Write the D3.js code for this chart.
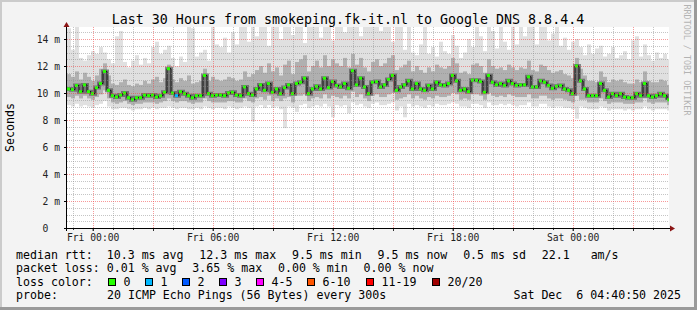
<!DOCTYPE html>
<html>
  <head>
    <title>smokeping - Google DNS 8.8.4.4</title>
    <script src="https://cdnjs.cloudflare.com/ajax/libs/d3/7.8.5/d3.min.js"></script>
    <style>
      body { margin: 0; background: #f3f3f3; }
      svg text { font-family: "DejaVu Sans Mono", monospace; white-space: pre; }
    </style>
  </head>
  <body>
    <svg width="697" height="310"></svg>
    <script>
      // one value every 12 minutes, starting Thu 22:43 UTC (ms)
      const median = [
        10.3, 10.25, 10.55, 10.1, 10.6, 10.1, 9.95, 10.4, 10.7, 11.6, 10.2, 9.8, 9.7, 9.85, 10.0, 9.65, 9.5, 9.65, 9.65,
        9.85, 9.8, 9.85, 9.7, 9.8, 10.05, 11.8, 10.0, 9.8, 10.1, 9.95, 9.8, 9.65, 9.8, 9.8, 11.3, 9.95, 9.8, 9.85,
        9.85, 9.8, 10.0, 10.05, 9.85, 9.8, 10.45, 9.95, 9.85, 10.3, 10.6, 10.2, 10.7, 10.05, 10.3, 9.95, 10.4, 10.6, 9.95,
        10.7, 10.8, 11.1, 9.95, 10.3, 10.5, 10.3, 11.1, 10.4, 10.85, 10.55, 10.45, 10.7, 10.35, 11.65, 10.6, 11.1, 10.45,
        9.95, 10.8, 10.85, 10.45, 10.6, 11.0, 11.3, 10.2, 10.45, 10.6, 10.9, 10.3, 10.7, 10.3, 10.2, 10.55, 10.3, 10.8, 10.6,
        10.55, 10.7, 11.3, 10.9, 10.2, 10.3, 10.1, 10.95, 10.95, 10.85, 10.05, 11.3, 10.8, 10.6, 10.7, 10.55, 10.9, 10.7, 10.55,
        10.6, 10.6, 11.2, 10.45, 10.45, 10.9, 10.8, 10.55, 10.35, 10.5, 10.55, 10.3, 10.2, 9.95, 12.0, 10.9, 10.3, 9.8, 9.8,
        9.8, 10.7, 10.2, 9.7, 9.95, 9.8, 9.95, 9.7, 9.65, 9.65, 9.95, 9.8, 10.7, 9.8, 9.7, 9.8, 9.95, 9.8, 9.5
      ];
      const smokeTop = [
        14.8, 13.2, 14.9, 12.6, 12.4, 12.8, 13.1, 12.9, 13.4, 13.0, 12.5, 12.2, 14.2, 14.6, 12.3, 11.9, 12.4, 12.8, 12.1,
        12.6, 12.2, 13.4, 13.8, 12.9, 13.2, 13.5, 12.6, 12.0, 12.7, 12.3, 14.9, 14.8, 12.7, 13.0, 13.2, 12.4, 14.9, 13.6,
        13.4, 14.1, 13.0, 14.5, 13.6, 14.9, 14.9, 13.8, 14.9, 14.2, 14.9, 14.9, 13.5, 14.9, 14.9, 14.0, 14.9, 14.9, 14.3,
        14.9, 14.9, 13.7, 14.9, 14.9, 14.9, 14.1, 14.9, 14.9, 13.9, 14.9, 14.9, 14.5, 14.9, 14.9, 14.9, 14.2, 14.9,
        14.9, 14.9, 14.9, 14.6, 14.9, 14.9, 13.8, 14.9, 14.9, 13.2, 14.9, 13.0, 12.8, 13.6, 14.9, 12.9, 13.4, 12.7, 13.8,
        13.1, 12.9, 14.3, 13.5, 12.6, 13.0, 14.0, 13.4, 14.9, 14.2, 13.1, 14.9, 14.6, 13.3, 14.9, 13.8, 13.2, 14.9, 13.6,
        14.9, 14.2, 14.9, 14.9, 13.6, 14.9, 14.9, 13.9, 14.4, 14.9, 13.5, 14.1, 13.2, 13.8, 14.0, 13.4, 12.8, 13.6, 12.9,
        13.3, 13.5, 12.7, 12.9, 13.4, 12.6, 12.8, 13.1, 12.5, 13.9, 14.2, 12.7, 13.6, 12.8, 12.4, 13.0, 12.6, 12.9, 12.5
      ];
      const smokeHi = [
        11.4, 11.2, 11.6, 11.0, 11.5, 11.2, 10.9, 11.3, 11.8, 12.2, 11.3, 10.7, 10.6, 10.8, 11.0, 10.6, 10.5, 10.7, 10.6,
        10.9, 10.7, 11.0, 11.2, 10.8, 11.1, 12.1, 11.0, 10.8, 11.1, 10.9, 11.3, 10.7, 10.8, 10.9, 11.8, 10.9, 11.2, 11.0,
        10.9, 11.0, 11.2, 11.1, 10.9, 11.0, 11.6, 11.2, 11.4, 11.7, 12.0, 11.5, 12.2, 11.6, 11.9, 11.3, 12.1, 12.4, 11.4,
        12.3, 12.5, 12.8, 11.6, 12.0, 12.4, 11.9, 12.8, 12.0, 12.5, 12.2, 12.0, 12.6, 11.9, 12.9, 12.1, 12.6, 11.9,
        11.6, 12.3, 12.5, 12.0, 12.2, 12.6, 12.8, 11.7, 11.9, 12.1, 12.4, 11.6, 12.0, 11.7, 11.5, 11.9, 11.6, 12.1, 11.9,
        11.8, 12.0, 12.6, 12.2, 11.5, 11.6, 11.4, 12.1, 12.2, 12.0, 11.5, 12.5, 12.0, 11.8, 11.9, 11.7, 12.1, 11.9, 11.7,
        11.9, 11.8, 12.4, 11.7, 11.6, 12.1, 12.0, 11.7, 11.5, 11.6, 11.7, 11.4, 11.3, 11.1, 12.6, 11.8, 11.3, 10.9, 10.9,
        10.8, 11.6, 11.2, 10.8, 11.0, 10.9, 11.0, 10.8, 10.7, 10.7, 11.0, 10.8, 11.6, 10.9, 10.8, 10.8, 11.0, 10.9, 10.6
      ];
      const smokeLo = [
        9.7, 9.6, 9.8, 9.6, 9.8, 9.6, 9.5, 9.7, 9.9, 10.2, 9.6, 9.3, 9.2, 9.3, 9.4, 9.2, 9.1, 9.2, 9.2,
        9.3, 9.3, 9.3, 9.2, 9.3, 9.4, 9.6, 9.4, 9.3, 9.4, 9.4, 9.3, 9.2, 9.3, 9.3, 9.6, 9.4, 9.3, 9.3,
        9.3, 9.3, 9.4, 9.4, 9.3, 9.3, 9.6, 9.4, 9.3, 9.6, 9.7, 9.5, 9.8, 9.4, 9.6, 9.4, 9.6, 9.7, 9.3,
        9.8, 9.8, 9.9, 9.4, 9.6, 9.7, 9.6, 9.9, 9.6, 9.8, 9.7, 9.6, 9.8, 9.6, 10.1, 9.7, 9.9, 9.6,
        9.4, 9.8, 9.9, 9.7, 9.7, 9.9, 10.0, 9.5, 9.6, 9.7, 9.9, 9.6, 9.8, 9.6, 9.5, 9.7, 9.6, 9.8, 9.7,
        9.7, 9.8, 10.0, 9.9, 9.5, 9.6, 9.5, 9.9, 9.9, 9.8, 9.5, 10.0, 9.8, 9.7, 9.8, 9.7, 9.9, 9.8, 9.7,
        9.7, 9.7, 9.9, 9.6, 9.6, 9.8, 9.8, 9.6, 9.5, 9.6, 9.6, 9.5, 9.4, 9.3, 9.8, 9.5, 9.5, 9.3, 9.3,
        9.3, 9.6, 9.4, 9.2, 9.3, 9.3, 9.3, 9.2, 9.2, 9.2, 9.3, 9.3, 9.6, 9.3, 9.2, 9.3, 9.3, 9.3, 9.1
      ];
      const smokeBottom = [
        9.1, 9.0, 9.2, 9.0, 9.1, 9.0, 8.9, 9.1, 9.2, 9.4, 9.0, 8.8, 8.8, 8.9, 8.9, 8.8, 8.7, 8.8, 8.8,
        8.9, 8.8, 8.9, 8.8, 8.9, 8.9, 9.0, 8.9, 8.8, 8.9, 8.9, 8.8, 8.8, 8.9, 8.8, 9.0, 8.9, 8.8, 8.9,
        8.9, 8.8, 9.0, 8.9, 8.8, 8.9, 9.0, 8.9, 7.9, 9.0, 9.1, 8.9, 9.1, 8.9, 9.0, 8.8, 7.4, 9.0, 8.9,
        8.6, 9.1, 9.2, 8.9, 9.0, 9.1, 9.0, 9.2, 9.0, 8.2, 9.1, 9.0, 9.1, 8.5, 9.3, 9.1, 9.2, 9.0,
        8.9, 9.2, 9.3, 9.1, 9.1, 9.2, 9.3, 8.7, 9.0, 8.2, 9.2, 9.0, 9.1, 9.0, 8.9, 9.1, 9.0, 9.2, 9.1,
        9.1, 9.2, 9.3, 9.2, 9.0, 9.0, 8.9, 9.2, 9.2, 9.1, 8.9, 9.3, 9.1, 9.1, 9.2, 9.1, 9.2, 9.1, 9.0,
        9.1, 9.1, 9.3, 9.0, 9.0, 9.2, 9.2, 9.0, 8.9, 9.0, 9.0, 8.9, 8.9, 8.8, 8.1, 9.0, 8.9, 8.8, 8.8,
        8.8, 9.0, 8.9, 8.7, 8.8, 8.8, 8.8, 8.7, 8.8, 8.7, 8.8, 8.8, 9.0, 8.8, 8.7, 8.8, 8.8, 8.8, 8.7
      ];
      // steps where pings were lost (index, lost pings)
      const lossIndex = [27];
      const lossCount = [1];

      const lossLabels = ["0", "1", "2", "3", "4-5", "6-10", "11-19", "20/20"];
      const lossColors = ["#26ff00", "#00b8ff", "#0059ff", "#7e00ff", "#ff00ff", "#ff5500", "#ff0000", "#a00000"];
      const lossLimits = [0, 1, 2, 3, 5, 10, 19, 20];

      const rttLegend = ["median rtt:  10.3 ms avg", "12.3 ms max", "9.5 ms min", "9.5 ms now", "0.5 ms sd", "22.1   am/s"];
      const lossLegend = ["packet loss: 0.01 % avg", "3.65 % max", "0.00 % min", "0.00 % now"];
      const title = "Last 30 Hours from smokeping.fk-it.nl to Google DNS 8.8.4.4";
      const probeText = "20 ICMP Echo Pings (56 Bytes) every 300s";
      const stamp = "Sat Dec  6 04:40:50 2025";

      const start = Date.UTC(2025, 11, 4, 22, 43);
      const step = 12 * 60 * 1000;
      const end = start + 30.1 * 3600 * 1000;

      const svg = d3.select("svg");
      const width = +svg.attr("width");
      const height = +svg.attr("height");
      const pL = 67, pR = 669, pT = 27, pB = 228;

      const x = d3.scaleUtc().domain([new Date(start), new Date(end)]).range([pL, pR]);
      const y = d3.scaleLinear().domain([0, 14.89]).range([pB, pT]);
      const t = i => new Date(start + i * step);

      // frame
      svg.append("rect").attr("width", width).attr("height", height).attr("fill", "#f3f3f3");
      svg.append("path").attr("d", `M1,${height} V1 H${width}`).attr("stroke", "#cbcbcb").attr("stroke-width", 2).attr("fill", "none");
      svg.append("path").attr("d", `M0,${height - 1.5} H${width - 1.5} V0`).attr("stroke", "#9a9a9a").attr("stroke-width", 3).attr("fill", "none");

      svg.append("rect")
        .attr("x", pL).attr("y", pT)
        .attr("width", pR - pL).attr("height", pB - pT)
        .attr("fill", "#fff");

      svg.append("clipPath").attr("id", "clip")
        .append("rect").attr("x", pL).attr("y", pT).attr("width", pR - pL).attr("height", pB - pT);

      const plot = svg.append("g").attr("clip-path", "url(#clip)");

      // smoke
      plot.append("g").selectAll("rect").data(median).join("rect")
        .attr("x", (d, i) => x(t(i)))
        .attr("width", (d, i) => x(t(i + 1)) - x(t(i)))
        .attr("y", (d, i) => y(smokeTop[i]))
        .attr("height", (d, i) => y(smokeBottom[i]) - y(smokeTop[i]))
        .attr("fill", "#e0e0e0");

      plot.append("g").selectAll("rect").data(median).join("rect")
        .attr("x", (d, i) => x(t(i)))
        .attr("width", (d, i) => x(t(i + 1)) - x(t(i)))
        .attr("y", (d, i) => y(smokeHi[i]))
        .attr("height", (d, i) => y(smokeLo[i]) - y(smokeHi[i]))
        .attr("fill", "#b0b0b0");

      const medLine = d3.line()
        .x((d, i) => x(t(i)))
        .y(d => y(d))
        .curve(d3.curveStepAfter);

      plot.append("path").datum(median)
        .attr("d", medLine)
        .attr("fill", "none")
        .attr("stroke", "#4a4a4a")
        .attr("stroke-opacity", 0.6)
        .attr("stroke-width", 4);

      // grid
      const grid = svg.append("g");
      const hours = d3.utcHour.range(new Date(start), new Date(end));
      grid.selectAll(".vg").data(hours).join("line")
        .attr("x1", d => Math.round(x(d)) + 0.5).attr("x2", d => Math.round(x(d)) + 0.5)
        .attr("y1", pT).attr("y2", pB)
        .attr("stroke", d => d.getUTCHours() % 3 === 0 ? "rgba(240,70,70,0.55)" : "rgba(140,140,140,0.5)")
        .attr("stroke-dasharray", "1,1");

      const yMinor = d3.range(0.5, 14.9, 0.5);
      grid.selectAll(".hg").data(yMinor).join("line")
        .attr("x1", pL).attr("x2", pR)
        .attr("y1", d => Math.round(y(d)) + 0.5).attr("y2", d => Math.round(y(d)) + 0.5)
        .attr("stroke", d => d % 2 === 0 ? "rgba(240,70,70,0.55)" : "rgba(140,140,140,0.5)")
        .attr("stroke-dasharray", "1,1");

      plot.append("path").datum(median)
        .attr("d", medLine)
        .attr("fill", "none")
        .attr("stroke", "#111")
        .attr("stroke-width", 1);

      const lossAt = i => {
        const k = lossIndex.indexOf(i);
        return k < 0 ? 0 : lossCount[k];
      };
      const lossColor = n => lossColors[lossLimits.findIndex(l => n <= l)];

      plot.append("g").selectAll("rect").data(median).join("rect")
        .attr("x", (d, i) => x(t(i)))
        .attr("y", d => y(d) - 1.5)
        .attr("width", 3)
        .attr("height", 3)
        .attr("fill", (d, i) => lossColor(lossAt(i)));

      // axes
      const xAxis = svg.append("g")
        .attr("transform", `translate(0,${pB})`)
        .call(d3.axisBottom(x)
          .tickValues(hours.filter(d => d.getUTCHours() % 6 === 0))
          .tickFormat(d3.utcFormat("%a %H:%M"))
          .tickSize(3)
          .tickPadding(3));
      xAxis.select(".domain").remove();
      xAxis.selectAll("text").attr("font-size", "9.7px").attr("fill", "#222").attr("dy", "0.75em");

      svg.append("g").selectAll("line").data(hours).join("line")
        .attr("x1", d => Math.round(x(d)) + 0.5).attr("x2", d => Math.round(x(d)) + 0.5)
        .attr("y1", pB).attr("y2", d => pB + (d.getUTCHours() % 3 === 0 ? 3 : 2))
        .attr("stroke", "#333");

      const yAxis = svg.append("g")
        .attr("transform", `translate(${pL},0)`)
        .call(d3.axisLeft(y)
          .tickValues(d3.range(0, 15, 2))
          .tickFormat(d => d === 0 ? "0" : d + " m")
          .tickSize(3)
          .tickPadding(4));
      yAxis.select(".domain").remove();
      yAxis.selectAll("text").attr("font-size", "9.7px").attr("fill", "#222")
        .attr("dx", d => d === 0 ? "-1.2em" : null);

      svg.append("line")
        .attr("x1", pL - 3).attr("x2", pR + 1)
        .attr("y1", pB + 0.5).attr("y2", pB + 0.5)
        .attr("stroke", "#000");
      svg.append("line")
        .attr("x1", pL - 0.5).attr("x2", pL - 0.5)
        .attr("y1", pB + 3).attr("y2", pT - 1)
        .attr("stroke", "#000");
      svg.append("path")
        .attr("d", `M${pR + 1},${pB - 2.5} L${pR + 6},${pB + 0.5} L${pR + 1},${pB + 3.5} Z`)
        .attr("fill", "#8b1414");
      svg.append("path")
        .attr("d", `M${pL - 3.5},${pT} L${pL - 0.5},${pT - 5} L${pL + 2.5},${pT} Z`)
        .attr("fill", "#8b1414");

      // texts
      svg.append("text")
        .attr("x", 348).attr("y", 23.5)
        .attr("text-anchor", "middle")
        .attr("font-size", "13.3px")
        .attr("fill", "#000")
        .text(title);

      svg.append("text")
        .attr("transform", `translate(14,${(pT + pB) / 2}) rotate(-90)`)
        .attr("text-anchor", "middle")
        .attr("font-size", "11.6px")
        .attr("fill", "#000")
        .text("Seconds");

      svg.append("text")
        .attr("transform", "translate(684,60) rotate(90)")
        .attr("text-anchor", "middle")
        .attr("font-size", "8.4px")
        .attr("fill", "#b3b3b3")
        .text("RRDTOOL / TOBI OETIKER");

      // legend rows: entries placed one after another with a fixed gap, like rrdtool
      const legend = svg.append("g").attr("font-size", "11.6px").attr("fill", "#000");
      const gap = 15.8;
      function legendRow(entries, yPos) {
        let cx = 16;
        entries.forEach(s => {
          const el = legend.append("text").attr("x", cx).attr("y", yPos).text(s);
          cx += el.node().getComputedTextLength() + gap;
        });
      }
      legendRow(rttLegend, 258.5);
      legendRow(lossLegend, 272);

      legend.append("text").attr("x", 16).attr("y", 285.5).text("loss color:");
      const boxX = [108.5, 145.5, 182.5, 219.5, 256.5, 307.5, 366.5, 432.5];
      const items = legend.selectAll(".lc").data(lossLabels).join("g");
      items.append("rect")
        .attr("x", (d, i) => boxX[i]).attr("y", 278.5)
        .attr("width", 7).attr("height", 7)
        .attr("fill", (d, i) => lossColors[i])
        .attr("stroke", "#000");
      items.append("text")
        .attr("x", (d, i) => boxX[i] + 15).attr("y", 285.5)
        .text(d => d);

      legend.append("text").attr("x", 16).attr("y", 299).text("probe:");
      legend.append("text").attr("x", 107).attr("y", 299).text(probeText);
      legend.append("text").attr("x", 681).attr("y", 299).attr("text-anchor", "end").text(stamp);
    </script>
  </body>
</html>
